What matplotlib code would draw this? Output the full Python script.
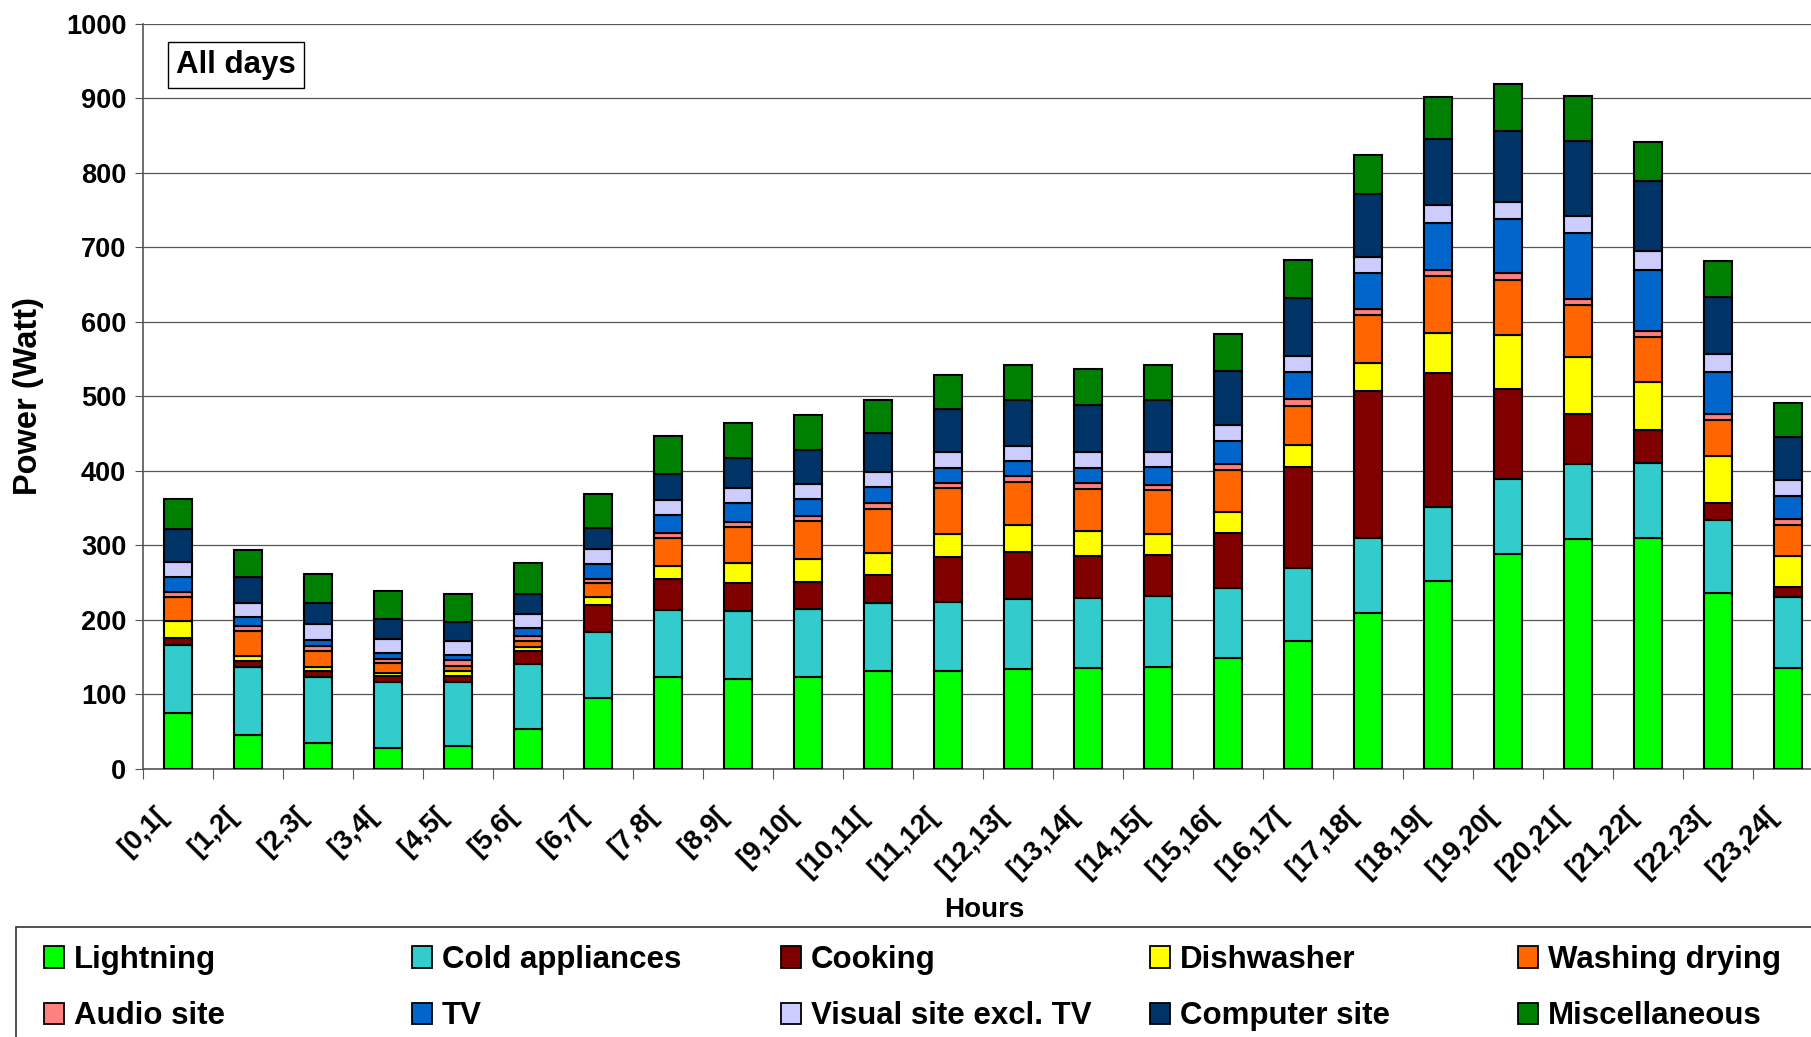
import numpy as np
import matplotlib
matplotlib.use('Agg')
import matplotlib.pyplot as plt
from matplotlib.patches import Patch, Rectangle
from matplotlib.transforms import ScaledTranslation

plt.rcParams['font.family'] = ['Liberation Sans', 'DejaVu Sans']
plt.rcParams['font.weight'] = 'bold'

hours = ['[0,1[', '[1,2[', '[2,3[', '[3,4[', '[4,5[', '[5,6[', '[6,7[', '[7,8[',
         '[8,9[', '[9,10[', '[10,11[', '[11,12[', '[12,13[', '[13,14[', '[14,15[',
         '[15,16[', '[16,17[', '[17,18[', '[18,19[', '[19,20[', '[20,21[', '[21,22[',
         '[22,23[', '[23,24[']

# power per end use (Watt)
lightning = [75, 45, 34, 28, 31, 53, 95, 123, 121, 123.5, 131, 131, 134, 135, 137, 148,
             171, 209.5, 252.5, 288, 308, 310, 236, 135]
cold = [91, 91, 89, 88, 86, 88, 88, 90, 91, 90.5, 92, 92.5, 93.5, 94, 95, 95,
        98.5, 100.5, 99, 100.5, 101.5, 100, 98, 95.5]
cooking = [10, 8, 8, 8.5, 8, 17, 37, 42, 37, 37, 37, 60, 63, 56, 54.5, 73,
           136, 197, 179, 121, 66, 44.5, 22.5, 14]
dishwasher = [22, 7, 5, 4.5, 5.5, 5, 11, 17, 27, 30, 30, 32, 36, 34, 29, 28.5,
              28.5, 37, 54, 73, 77, 64, 63, 41]
washing = [33, 34, 22, 12.5, 8, 8.5, 18, 38, 49, 51, 59, 61.5, 58.5, 57, 58.5, 57,
           53.5, 65, 77, 74, 70, 61, 48, 42]
audio = [6, 7, 7, 6, 7, 7, 6, 6, 6, 7.5, 7, 6, 7.5, 7, 7, 8,
         8.5, 8, 8, 8.5, 8.5, 7.5, 8, 7]
tv = [20, 11, 8, 8, 6.5, 11, 20, 25, 25, 23, 22, 21, 20, 20.5, 23.5, 31,
      36, 48.5, 63.5, 73, 87.5, 83, 57, 31.5]
visual = [20, 20, 21, 19, 19, 18, 20, 20, 21, 20, 20, 21, 21, 21, 21, 20.5,
          22, 21, 23, 23, 24, 25, 24, 22]
computer = [45, 34, 28, 26.5, 26, 26.5, 28, 34, 40, 45, 53, 58, 61, 64, 69, 73,
            78, 84.5, 89, 95.5, 100.5, 94, 76.5, 57]
misc = [40, 37, 39, 37, 37, 42, 46, 51, 47.5, 47, 44, 46, 48, 48, 47, 49,
        50.5, 53, 57, 63, 60, 52, 49, 46]

names = ['Lightning', 'Cold appliances', 'Cooking', 'Dishwasher', 'Washing drying',
         'Audio site', 'TV', 'Visual site excl. TV', 'Computer site', 'Miscellaneous']
colors = ['#00FF00', '#33CCCC', '#800000', '#FFFF00', '#FF6600',
          '#FF8080', '#0066CC', '#CCCCFF', '#003366', '#008000']
series = [lightning, cold, cooking, dishwasher, washing, audio, tv, visual, computer, misc]

W, H = 1811, 1037
fig = plt.figure(figsize=(W / 100, H / 100), dpi=100)
ax = fig.add_axes([143 / W, 1 - 768.7 / H, 1680 / W, 745 / H])

x = np.arange(len(hours))
bottom = np.zeros(len(hours))
for vals, c in zip(series, colors):
    ax.bar(x, vals, 0.4, bottom=bottom, color=c, edgecolor='black', linewidth=1.5, zorder=3)
    bottom += np.array(vals)

ax.set_xlim(-0.5, 23.5)
ax.set_ylim(0, 1000)
ax.set_yticks(range(0, 1001, 100))
ax.yaxis.grid(True, color='#555555', linewidth=0.9, zorder=0)
ax.tick_params(axis='y', labelsize=19.5, length=6, color='#555555', pad=6)

ax.set_xticks(np.arange(-0.5, 24, 1))
ax.set_xticklabels([])
ax.tick_params(axis='x', which='major', length=7, color='#555555')
ax.set_xticks(x, minor=True)
ax.set_xticklabels(hours, minor=True, rotation=45, ha='right', va='center',
                   rotation_mode='anchor', fontsize=20)
ax.tick_params(axis='x', which='minor', length=0, pad=31)
shift = ScaledTranslation(-14 / 100, 0, fig.dpi_scale_trans)
for lab in ax.get_xticklabels(minor=True):
    lab.set_transform(lab.get_transform() + shift)

for s in ['top', 'right']:
    ax.spines[s].set_visible(False)
for s in ['left', 'bottom']:
    ax.spines[s].set_color('#555555')
    ax.spines[s].set_linewidth(1.2)

fig.text(236 / W, 1 - 65 / H, 'All days', fontsize=22.5, ha='center', va='center',
         bbox=dict(boxstyle='square,pad=0.25', fc='white', ec='black', lw=1))
fig.text(29 / W, 1 - 396 / H, 'Power (Watt)', fontsize=23.5, rotation=90,
         ha='center', va='center')
fig.text(984 / W, 1 - 910 / H, 'Hours', fontsize=20, ha='center', va='center')

# legend frame, cut by the figure edge like the original
fig.patches.append(Rectangle((16 / W, -0.05), 1.0, 1 - 927 / H + 0.05,
                             transform=fig.transFigure, fill=False,
                             edgecolor='#333333', linewidth=1.2))

col_x = [44, 412, 781, 1150, 1518]
for i, cx in enumerate(col_x):
    idx = [i, i + 5]
    hs = [Patch(facecolor=colors[j], edgecolor='black', linewidth=1.3) for j in idx]
    fig.legend(hs, [names[j] for j in idx], loc='center left',
               bbox_to_anchor=(cx / W, 1 - 988 / H), fontsize=22.5, frameon=False,
               borderpad=0, borderaxespad=0, labelspacing=0.86,
               handlelength=0.65, handleheight=0.7, handletextpad=0.3)

fig.savefig('out.png', dpi=100)
